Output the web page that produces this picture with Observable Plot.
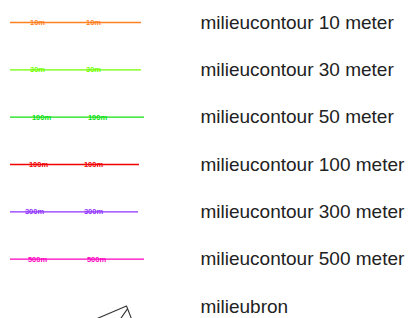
<!DOCTYPE html>
<html><head><meta charset="utf-8">
<script src="https://cdn.jsdelivr.net/npm/d3@7"></script>
<script src="https://cdn.jsdelivr.net/npm/@observablehq/plot@0.6"></script>
<style>html,body{margin:0;padding:0;background:#fff;overflow:hidden}</style>
</head><body><div id="chart"></div>
<script>
const names = ["milieucontour 10 meter","milieucontour 30 meter","milieucontour 50 meter","milieucontour 100 meter","milieucontour 300 meter","milieucontour 500 meter","milieubron"];
const lineLabels = [["10m","10m"],["30m","30m"],["100m","100m"],["100m","100m"],["300m","300m"],["500m","500m"]];
const colors = ["#ff8020","#70ff00","#10e010","#f00000","#9030ff","#ff00c0"];
const lineEnd = [141,141,144,139,138,144];
const labelPos = [[37,93],[37,93],[41,97],[38,93],[34,93],[37,96]];
// milieubron symbol outline (x, row offset)
const symX = [[96,126,131],[120,127]];
const symY = [[6.26,5.99,6.26],[6.26,6.05]];

const rows = lineLabels.map((l,i)=>({i, color: colors[i], x1: 10, x2: lineEnd[i]}));
const lbls = lineLabels.flatMap((l,i)=>l.map((t,j)=>({i, t, x: labelPos[i][j], color: colors[i]})));
const texts = names.map((n,i)=>({i, n}));
const sym = symX.flatMap((xs,k)=>xs.map((x,j)=>({k, x, y: symY[k][j]})));

const chart = Plot.plot({
  width: 409, height: 318,
  margin: 0,
  x: {domain: [0,409], range: [0,409], axis: null},
  y: {domain: [0,6], range: [22,306], axis: null},
  style: {background: "#fff"},
  marks: [
    Plot.ruleY(rows, {y: "i", x1: "x1", x2: "x2", stroke: "color", strokeWidth: 1.3}),
    Plot.text(lbls, {x: "x", y: "i", text: "t", fill: "color", fontSize: 7.5, fontWeight: "bold", fontFamily: "Liberation Sans, Arial, sans-serif"}),
    Plot.text(texts, {x: 200, y: "i", text: "n", textAnchor: "start", fontSize: 19, fill: "#222", fontFamily: "Liberation Sans, Arial, sans-serif"}),
    Plot.line(sym, {x: "x", y: "y", z: "k", stroke: "#333", strokeWidth: 1.1, clip: true})
  ]
});
document.getElementById("chart").append(chart);
</script></body></html>
